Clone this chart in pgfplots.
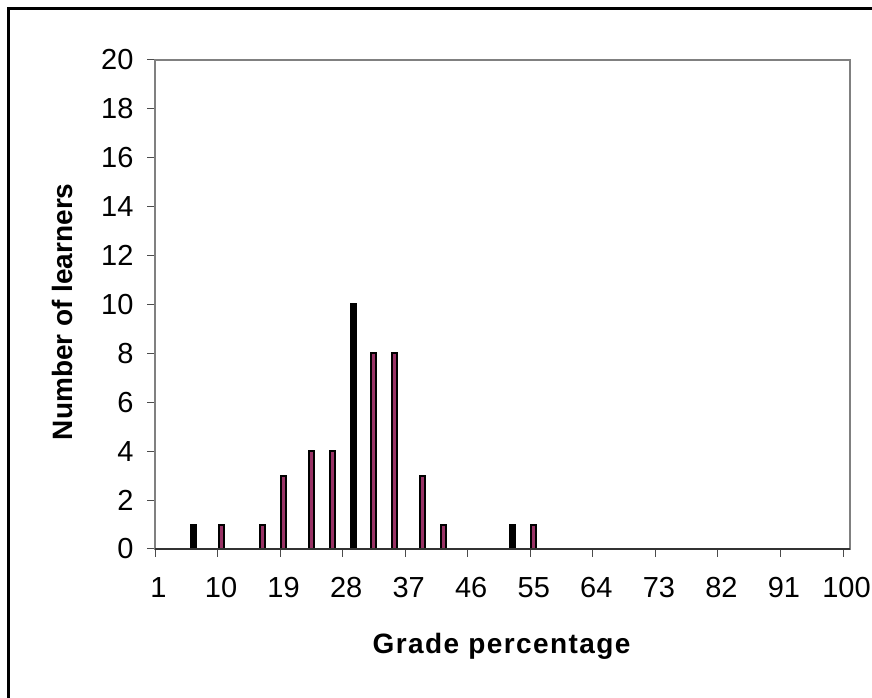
\documentclass[border=0pt]{standalone}
\usepackage{fontspec}
\setmainfont{Liberation Sans}
\usepackage{pgfplots}
\pgfplotsset{compat=1.18}
\definecolor{plum}{RGB}{153,51,102}
\definecolor{axgray}{RGB}{128,128,128}
\begin{document}
\begin{tikzpicture}
\useasboundingbox (0bp,0bp) rectangle (872bp,698bp);
% outer chart frame (only top and left edges show in the original)
\draw[line width=3bp] (8.5bp,0bp) -- (8.5bp,689.5bp) -- (872bp,689.5bp);
\begin{axis}[
    at={(155bp,149bp)}, anchor=south west,
    scale only axis,
    width=695bp, height=489bp,
    xmin=0.5, xmax=100.5,
    ymin=0, ymax=20,
    ytick={0,2,...,20},
    xtick={1,10,...,100},
    minor xtick={0.5,9.5,...,99.5},
    xtick pos=bottom, ytick pos=left,
    major x tick style={draw=none},
    tick align=outside,
    major tick length=8bp,
    minor tick length=8bp,
    tick style={black!70, line width=1bp},
    axis line style={axgray, line width=1.5bp},
    /pgf/number format/assume math mode=true,
    tick label style={font=\fontsize{29bp}{31bp}\selectfont},
    yticklabel style={anchor=east, xshift=-10bp},
    xticklabel style={anchor=base, yshift=-40bp},
    xlabel={\addfontfeatures{LetterSpace=5}Grade percentage},
    ylabel={Number of learners},
    label style={font=\fontsize{28bp}{30bp}\selectfont\bfseries},
    xlabel style={at={(axis description cs:0.4986,-0.2127)}, anchor=base},
    ylabel style={at={(axis description cs:-0.1324,0.485)}, anchor=center},
    every axis plot/.append style={ybar, bar width=5bp, bar shift=0pt, line width=2bp, draw=black},
    clip=false,
]
\addplot[fill=plum] coordinates {
    (10,1) (16,1) (19,3) (23,4) (26,4)
    (32,8) (35,8) (39,3) (42,1) (55,1)
};
\addplot[fill=black] coordinates {
    (6,1) (29,10) (52,1)
};
\draw[black!80, line width=1.5bp] (rel axis cs:0,0) -- (rel axis cs:1,0);
\end{axis}
\end{tikzpicture}
\end{document}
